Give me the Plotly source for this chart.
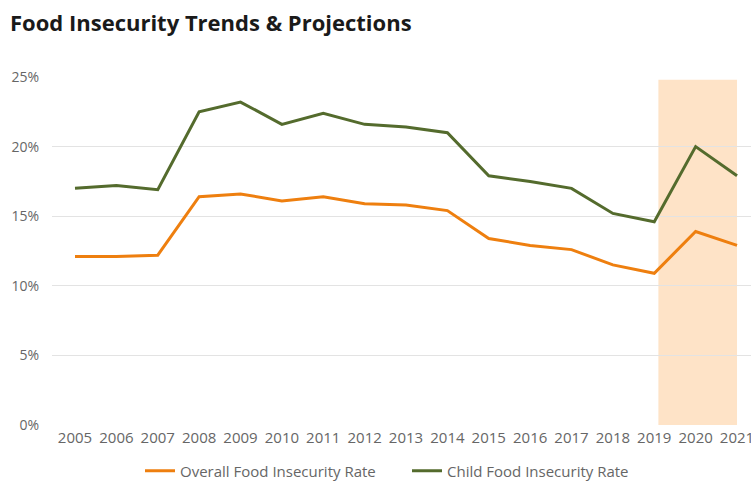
import plotly.graph_objects as go

years = list(range(2005, 2022))
overall = [12.1, 12.1, 12.2, 16.4, 16.6, 16.1, 16.4, 15.9, 15.8, 15.4, 13.4, 12.9, 12.6, 11.5, 10.9, 13.9, 12.9]
child = [17.0, 17.2, 16.9, 22.5, 23.2, 21.6, 22.4, 21.6, 21.4, 21.0, 17.9, 17.5, 17.0, 15.2, 14.6, 20.0, 17.9]
y_ticks = [0, 5, 10, 15, 20, 25]
y_tick_labels = ["0%", "5%", "10%", "15%", "20%", "25%"]

ORANGE = "#EE7F0F"
GREEN = "#546B2D"
FONT = "Open Sans"

fig = go.Figure()
fig.add_trace(go.Scatter(x=years, y=overall, mode="lines", name="Overall Food Insecurity Rate",
                         line=dict(color=ORANGE, width=3)))
fig.add_trace(go.Scatter(x=years, y=child, mode="lines", name="Child Food Insecurity Rate",
                         line=dict(color=GREEN, width=3)))

fig.add_shape(type="rect", xref="x", yref="y", x0=2019.1, x1=2021.0, y0=0, y1=24.8,
              fillcolor="#FEE3C7", line=dict(width=0), layer="below")
fig.add_annotation(x=2020.1, y=25.9, xref="x", yref="y", text="Projections", showarrow=False,
                   font=dict(family=FONT, size=15, color="#333333"))

fig.update_layout(
    width=751, height=481,
    margin=dict(l=52, r=0, t=77, b=56),
    paper_bgcolor="white", plot_bgcolor="white",
    title=dict(text="Food Insecurity Trends & Projections", x=10/751, xanchor="left",
               y=1-23/481, yanchor="middle", xref="container", yref="container",
               font=dict(family=FONT, size=22, color="#1a1a1a", weight=700)),
    xaxis=dict(range=[2004.444, 2021.338], tickmode="array", tickvals=years,
               ticktext=[str(y) for y in years], showgrid=False, zeroline=False,
               showline=False, ticks="", ticklabelstandoff=2, automargin=False,
               ticklabeloverflow="allow",
               tickfont=dict(family=FONT, size=15, color="#666666")),
    yaxis=dict(range=[0, 25], tickmode="array", tickvals=y_ticks, ticktext=y_tick_labels,
               showgrid=True, gridcolor="#E3E3E3", gridwidth=1, zeroline=False,
               showline=False, ticks="", ticklabelstandoff=12, automargin=False,
               tickfont=dict(family=FONT, size=14, color="#666666")),
    showlegend=True,
    legend=dict(orientation="h", x=140/751, xanchor="left", xref="container",
                y=1-471/481, yanchor="middle", yref="container",
                font=dict(family=FONT, size=15, color="#666666"), itemwidth=30,
                entrywidth=222, entrywidthmode="pixels", tracegroupgap=0,
                bgcolor="rgba(0,0,0,0)"),
)

fig.write_html("out.html")
